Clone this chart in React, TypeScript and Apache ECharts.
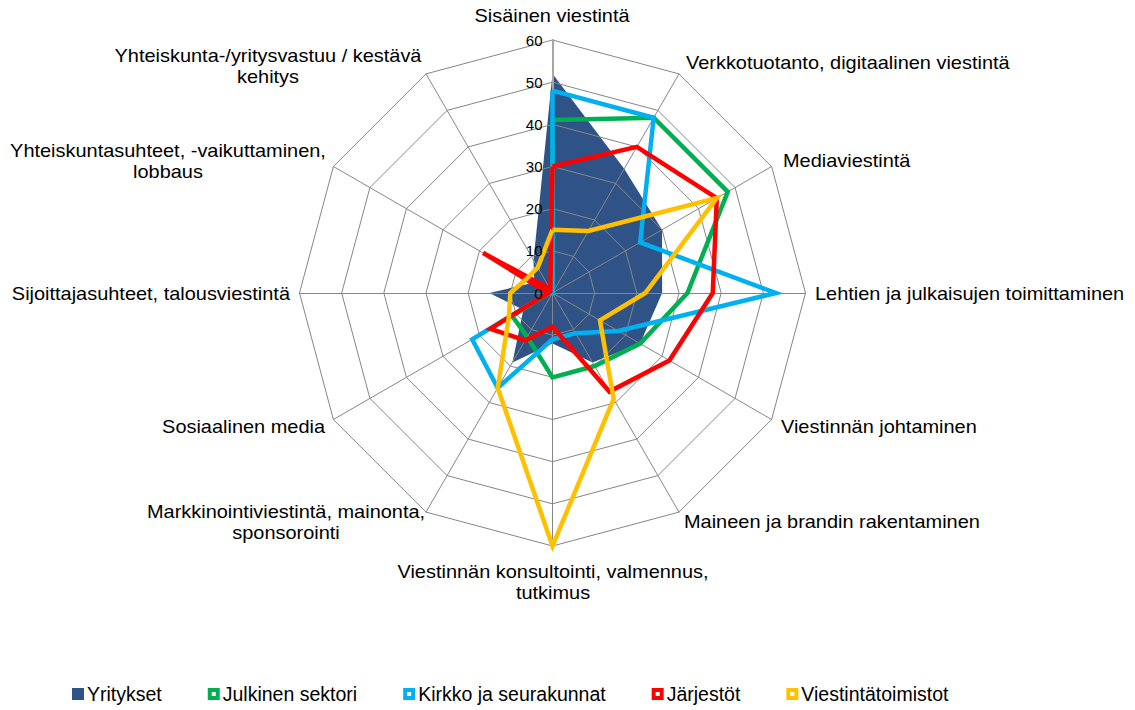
import React, { useEffect, useRef } from "react";
import * as echarts from "echarts";

const categories = [
  "Sisäinen viestintä",
  "Verkkotuotanto, digitaalinen viestintä",
  "Mediaviestintä",
  "Lehtien ja julkaisujen toimittaminen",
  "Viestinnän johtaminen",
  "Maineen ja brandin rakentaminen",
  "Viestinnän konsultointi, valmennus,\ntutkimus",
  "Markkinointiviestintä, mainonta,\nsponsorointi",
  "Sosiaalinen media",
  "Sijoittajasuhteet, talousviestintä",
  "Yhteiskuntasuhteet, -vaikuttaminen,\nlobbaus",
  "Yhteiskunta-/yritysvastuu / kestävä\nkehitys",
];

const seriesNames = [
  "Yritykset",
  "Julkinen sektori",
  "Kirkko ja seurakunnat",
  "Järjestöt",
  "Viestintätoimistot",
];

const yritykset = [52, 34, 30, 26, 24, 19, 12, 19, 8, 15, 5, 9];
const julkinenSektori = [41, 48, 48, 32, 24, 20, 20, 12, 11, 1, 0, 0];
const kirkkoJaSeurakunnat = [48, 48, 24, 53, 18, 11, 11, 26, 22, 1, 0, 0];
const jarjestot = [30, 40, 45, 38, 32, 27, 8, 13, 17, 1, 19, 1];
const viestintatoimistot = [15, 17, 45, 22, 13, 29, 60, 26, 12, 10, 7, 7];

const axisMin = 0;
const axisMax = 60;
const tickCount = 6;

const colors = ["#2F5386", "#00B050", "#00B0F0", "#FF0000", "#FFC000"];

const FONT = "'Liberation Sans', Arial, sans-serif";

// ECharts places indicators counter-clockwise; the reference runs clockwise.
const order = [0, 11, 10, 9, 8, 7, 6, 5, 4, 3, 2, 1];
const reorder = (arr: number[]) => order.map((i) => arr[i]);

const labelLayout: { x: number; y: number; align: string }[] = [
  { x: 552, y: 16, align: "center" },
  { x: 686, y: 63, align: "left" },
  { x: 783, y: 161, align: "left" },
  { x: 815, y: 294, align: "left" },
  { x: 781, y: 427, align: "left" },
  { x: 684, y: 522, align: "left" },
  { x: 553, y: 582, align: "center" },
  { x: 286, y: 522, align: "center" },
  { x: 325, y: 427, align: "right" },
  { x: 290, y: 294, align: "right" },
  { x: 168, y: 161, align: "center" },
  { x: 268, y: 66, align: "center" },
];

export default function App() {
  const ref = useRef<HTMLDivElement>(null);
  useEffect(() => {
    const chart = echarts.init(ref.current!, null, { renderer: "svg" });
    const allSeries = [yritykset, julkinenSektori, kirkkoJaSeurakunnat, jarjestot, viestintatoimistot];
    const baseRadar = {
      center: [552.5, 293],
      radius: 253,
      startAngle: 90,
      splitNumber: tickCount,
      shape: "polygon",
      axisName: { show: false },
      splitArea: { show: false },
      axisTick: { show: false },
      axisLabel: { show: false },
    };
    chart.setOption({
      animation: false,
      backgroundColor: "#ffffff",
      radar: [
        {
          ...baseRadar,
          z: 3,
          splitLine: { lineStyle: { color: "#868686", width: 1 } },
          axisLine: { lineStyle: { color: "#868686", width: 1 } },
          indicator: order.map((ci, k) => {
            const ind: any = { name: categories[ci], min: axisMin, max: axisMax };
            if (k === 0) ind.axisLine = { lineStyle: { color: "#A6A6A6", width: 2 } };
            return ind;
          }),
        },
        {
          // label-only layer so tick labels sit above the series lines
          ...baseRadar,
          z: 6,
          silent: true,
          splitLine: { show: false },
          axisLine: { show: false },
          indicator: order.map((ci, k) => {
            const ind: any = { name: categories[ci], min: axisMin, max: axisMax };
            if (k === 0) {
              ind.axisLabel = {
                show: true,
                color: "#000",
                fontSize: 15,
                fontFamily: FONT,
                margin: 10,
                showMinLabel: true,
                showMaxLabel: true,
              };
            }
            return ind;
          }),
        },
      ],
      legend: {
        left: 72,
        top: 684,
        padding: 0,
        itemGap: 46,
        itemWidth: 8,
        itemHeight: 8,
        icon: "rect",
        textStyle: { fontSize: 19.5, fontFamily: FONT, color: "#000" },
        data: seriesNames.map((n, i) => ({
          name: n,
          icon: "rect",
          itemStyle: {
            color: i === 0 ? colors[0] : "#ffffff",
            borderColor: colors[i],
            borderWidth: 4,
          },
        })),
      },
      graphic: categories.map((c, i) => ({
        type: "text",
        x: labelLayout[i].x,
        y: labelLayout[i].y,
        scaleX: 1.14,
        silent: true,
        style: {
          text: c,
          fontSize: 17.5,
          fontFamily: FONT,
          fill: "#000",
          align: labelLayout[i].align,
          verticalAlign: "middle",
          lineHeight: 21,
        },
      })),
      series: [
        {
          type: "radar",
          radarIndex: 0,
          z: 2,
          symbol: "none",
          data: [
            {
              name: seriesNames[0],
              value: reorder(allSeries[0]),
              itemStyle: { color: colors[0] },
              lineStyle: { width: 0, color: colors[0] },
              areaStyle: { color: colors[0], opacity: 1 },
            },
          ],
        },
        {
          type: "radar",
          radarIndex: 0,
          z: 4,
          symbol: "none",
          data: seriesNames.slice(1).map((n, j) => ({
            name: n,
            value: reorder(allSeries[j + 1]),
            itemStyle: { color: colors[j + 1] },
            lineStyle: { width: 4.5, color: colors[j + 1], join: "miter" },
          })),
        },
      ],
    });
    return () => chart.dispose();
  }, []);
  return (
    <div
      ref={ref}
      style={{ position: "fixed", left: 0, top: 0, width: 1135, height: 710, background: "#fff" }}
    />
  );
}
